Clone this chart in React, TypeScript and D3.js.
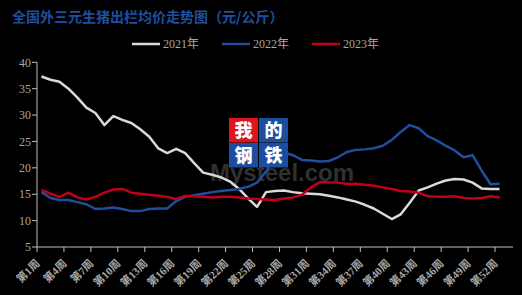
import React from "react";
import * as d3 from "d3";

const title = "全国外三元生猪出栏均价走势图（元/公斤）";
const weeks: string[] = Array.from({ length: 53 }, (_, i) => `第${i + 1}周`);
const yTicks = [5, 10, 15, 20, 25, 30, 35, 40];
const seriesNames = ["2021年", "2022年", "2023年"];
const seriesColors = ["#d9d9d9", "#1f4e9c", "#c0001a"];

const y2021 = [
  37.3, 36.7, 36.3, 35.0, 33.3, 31.4, 30.4, 28.1, 29.8, 29.1, 28.5, 27.3, 25.9,
  23.7, 22.8, 23.6, 22.8, 20.9, 19.1, 18.7, 18.2, 17.4, 16.0, 14.2, 12.6, 15.4,
  15.6, 15.7, 15.4, 15.2, 15.1, 15.0, 14.7, 14.4, 14.0, 13.6, 13.0, 12.3, 11.3,
  10.3, 11.2, 13.4, 15.7, 16.3, 17.0, 17.6, 17.9, 17.8, 17.2, 16.1, 16.0, 16.0,
];
const y2022 = [
  15.4, 14.3, 13.9, 13.9, 13.5, 13.1, 12.2, 12.3, 12.5, 12.2, 11.8, 11.8, 12.2,
  12.3, 12.3, 13.7, 14.5, 14.8, 15.1, 15.4, 15.6, 15.8, 16.0, 16.4, 17.2, 19.3,
  22.0, 22.9, 22.4, 21.5, 21.4, 21.2, 21.3, 22.0, 23.0, 23.4, 23.5, 23.7, 24.2,
  25.3, 26.8, 28.1, 27.5, 26.0, 25.2, 24.2, 23.3, 22.0, 22.4, 19.5, 16.9, 17.0,
];
const y2023 = [
  15.8, 15.1, 14.5, 15.3, 14.4, 14.0, 14.5, 15.3, 15.9, 16.0, 15.3, 15.1, 14.9,
  14.7, 14.5, 14.1, 14.7, 14.6, 14.5, 14.4, 14.5, 14.5, 14.4, 14.2, 14.1, 14.0,
  13.9, 14.2, 14.4, 14.9, 16.3, 17.3, 17.2, 17.2, 17.0, 17.0, 16.8, 16.6, 16.3,
  16.0, 15.6, 15.5, 15.3, 14.6, 14.5, 14.5, 14.6, 14.3, 14.2, 14.3, 14.6, 14.4,
];
const seriesData = [y2021, y2022, y2023];

const W = 522;
const H = 295;
const X0 = 37;
const X1 = 513;
const Y0 = 247;
const Y1 = 62.3;
const grey = "#a6a6a6";
const axisColor = "#bfbfbf";
const serif = "'Liberation Serif', 'Noto Sans CJK SC', serif";

export default function App() {
  const x = d3.scaleBand<string>().domain(weeks).range([X0, X1]).padding(0);
  const bw = x.bandwidth();
  const y = d3.scaleLinear().domain([5, 40]).range([Y0, Y1]);
  const line = d3
    .line<number>()
    .x((_, i) => (x(weeks[i]) as number) + bw / 2)
    .y((d) => y(d));

  const tickIdx = weeks.map((_, i) => i).filter((i) => i % 3 === 0);

  return (
    <div style={{ position: "absolute", left: 0, top: 0 }}>
      <svg width={W} height={H} style={{ display: "block" }}>
        <rect x={0} y={0} width={W} height={H} fill="#000" />
        <text
          x={12}
          y={22}
          fill="#1f4e9c"
          fontSize={14}
          fontWeight="bold"
          fontFamily="'Noto Sans CJK SC', sans-serif"
        >
          {title}
        </text>
        {/* legend */}
        {seriesNames.map((n, i) => {
          const lx = 132 + i * 90;
          return (
            <g key={n}>
              <line x1={lx} x2={lx + 28} y1={44} y2={44} stroke={seriesColors[i]} strokeWidth={2.5} />
              <text x={lx + 31} y={48} fill={grey} fontSize={12} fontFamily={serif}>
                {n}
              </text>
            </g>
          );
        })}
        {/* watermark text */}
        <text
          x={210}
          y={181}
          fill="#303030"
          fontSize={24}
          fontWeight="bold"
          fontFamily="'Liberation Sans', Arial, sans-serif"
        >
          Mysteel.com
        </text>
        {/* axes */}
        <line x1={X0} x2={X0} y1={Y1} y2={Y0} stroke={axisColor} strokeWidth={1} />
        <line x1={X0} x2={X1} y1={Y0} y2={Y0} stroke={axisColor} strokeWidth={1} />
        {yTicks.map((t) => (
          <g key={t}>
            <line x1={X0 - 5} x2={X0} y1={y(t)} y2={y(t)} stroke={axisColor} />
            <text
              x={X0 - 6}
              y={y(t)}
              dy="0.35em"
              textAnchor="end"
              fill={grey}
              fontSize={12}
              fontFamily={serif}
            >
              {t}
            </text>
          </g>
        ))}
        {tickIdx.map((i) => {
          const bx = (x(weeks[i]) as number);
          const cx = bx + bw / 2;
          return (
            <g key={i}>
              <line x1={bx} x2={bx} y1={Y0} y2={Y0 + 5} stroke={axisColor} />
              <text
                transform={`translate(${cx - 1},${264}) rotate(-45)`}
                textAnchor="end"
                fill={grey}
                fontSize={11}
                fontWeight="bold"
                fontFamily={serif}
              >
                {weeks[i]}
              </text>
            </g>
          );
        })}
        {/* series */}
        {seriesData.map((d, i) => (
          <path
            key={i}
            d={line(d) || ""}
            fill="none"
            stroke={seriesColors[i]}
            strokeWidth={2.5}
            strokeLinejoin="round"
          />
        ))}
        {/* logo */}
        <g fontFamily="'Noto Sans CJK SC', sans-serif" fontWeight={900} fontSize={18} fill="#fff" textAnchor="middle">
          <rect x={229} y={118} width={29} height={24.5} fill="#e0141e" />
          <rect x={259} y={118} width={29} height={24.5} fill="#1b4e9e" />
          <rect x={229} y={143} width={29} height={24.5} fill="#1b4e9e" />
          <rect x={259} y={143} width={29} height={24.5} fill="#1b4e9e" />
          <text x={243.5} y={136.5}>我</text>
          <text x={273.5} y={136.5}>的</text>
          <text x={243.5} y={161.5}>钢</text>
          <text x={273.5} y={161.5}>铁</text>
        </g>
      </svg>
    </div>
  );
}
